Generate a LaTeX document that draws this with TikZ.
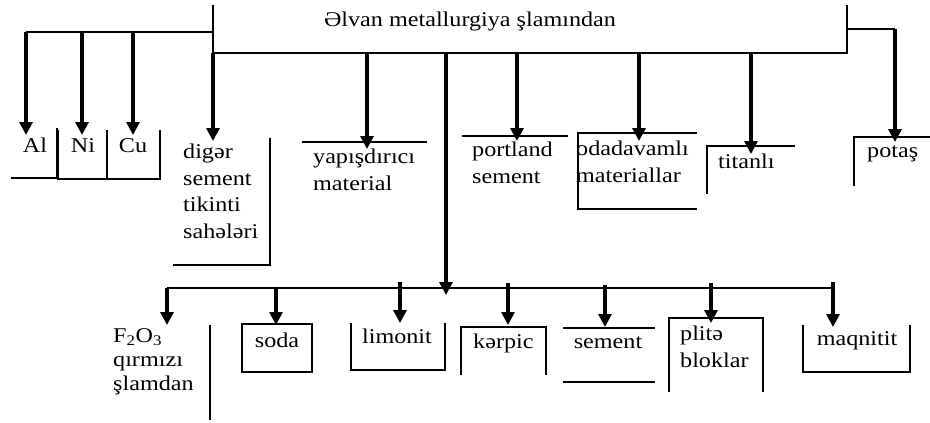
\documentclass[tikz,border=0pt]{standalone}
\usepackage{fontspec}
\setmainfont{Liberation Serif}[FakeStretch=1.15]
\usetikzlibrary{arrows.meta}

\tikzset{
  thinline/.style={line width=1.4pt},
  flow/.style={line width=3.2pt, -{Triangle[length=13pt,width=13pt]}},
  lbl/.style={inner sep=0pt, font=\fontsize{21}{26.5}\selectfont, align=left},
}

\begin{document}
\begin{tikzpicture}[x=1pt, y=-1pt]
        \useasboundingbox (0,0) rectangle (930,423);

        % Title
        \node[lbl, anchor=base] (title) at (470,27) {Əlvan metallurgiya şlamından};

        % Branch points on the upper buses
        \coordinate (top) at (213,5);
        \coordinate (leftbus) at (213,32);
        \coordinate (bus) at (213,53);
        \coordinate (busR) at (847,53);
        \coordinate (potTop) at (847,5);
        \coordinate (potBus) at (847,29);
        \coordinate (potTurn) at (895,29);
        \coordinate (alBus) at (26,32);
        \coordinate (niBus) at (82,32);
        \coordinate (cuBus) at (133,32);
        \coordinate (yapBus) at (367,53);
        \coordinate (midBus) at (446,53);
        \coordinate (porBus) at (517,53);
        \coordinate (odaBus) at (639,53);
        \coordinate (titBus) at (751,53);

        % Arrow ends on the upper row
        \coordinate (alIn) at (26,135);
        \coordinate (niIn) at (82,135);
        \coordinate (cuIn) at (133,135);
        \coordinate (digIn) at (213,141);
        \coordinate (yapIn) at (367,149);
        \coordinate (midIn) at (446,295);
        \coordinate (porIn) at (517,141);
        \coordinate (odaIn) at (639,141);
        \coordinate (titIn) at (751,154);
        \coordinate (potIn) at (895,142);

        % Upper bus lines
        \draw[thinline] (top) -- (bus) -- (busR) -- (potTop);
        \draw[thinline] (leftbus) -- (alBus);
        \draw[thinline] (potBus) -- (potTurn);

        % Upper arrows
        \draw[flow, line width=3.6pt] (alBus) -- (alIn);
        \draw[flow] (niBus) -- (niIn);
        \draw[flow] (cuBus) -- (cuIn);
        \draw[flow] (bus) -- (digIn);
        \draw[flow] (yapBus) -- (yapIn);
        \draw[flow] (midBus) -- (midIn);
        \draw[flow] (porBus) -- (porIn);
        \draw[flow] (odaBus) -- (odaIn);
        \draw[flow] (titBus) -- (titIn);
        \draw[flow, line width=4.5pt] (potTurn) -- (potIn);

        % Upper labels (base = last line)
        \node[lbl, anchor=base] (al) at (35,152) {Al};
        \node[lbl, anchor=base] (ni) at (83,152) {Ni};
        \node[lbl, anchor=base] (cu) at (133,152) {Cu};
        \node[lbl, anchor=base west] (diger) at (183,238) {digər\\sement\\tikinti\\sahələri};
        \node[lbl, anchor=base west] (yap) at (313,190) {yapışdırıcı\\material};
        \node[lbl, anchor=base west] (portland) at (472,183) {portland\\sement};
        \node[lbl, anchor=base west] (oda) at (576,182) {odadavamlı\\materiallar};
        \node[lbl, anchor=base west] (titan) at (718,168) {titanlı};
        \node[lbl, anchor=base west] (potas) at (867,157) {potaş};

        % Upper box edges
        \draw[thinline] (11,178) -- (57,178) -- (57,128);
        \draw[thinline] (58,130) -- (58,179) -- (160,179) -- (160,130);
        \draw[thinline] (107,130) -- (107,179);
        \draw[thinline] (270,138) -- (270,265) -- (173,265);
        \draw[thinline] (302,142) -- (427,142);
        \draw[thinline] (462,136) -- (568,136);
        \draw[thinline] (697,133) -- (578,133) -- (578,209) -- (697,209);
        \draw[thinline] (795,146) -- (707,146) -- (707,194);
        \draw[thinline] (930,137) -- (854,137) -- (854,186);

        % Lower bus and its arrows
        \coordinate (lowL) at (167,288);
        \coordinate (lowR) at (833,288);
        \draw[thinline] (lowL) -- (lowR);
        \foreach \name/\x/\ys/\ye in {fe/167/288/325, soda/276/288/325, limo/400/282/323,
                                      kerp/508/283/325, sem/605/285/327, plit/711/283/323,
                                      maq/833/282/327} {
            \coordinate (\name Bus) at (\x,\ys);
            \coordinate (\name In) at (\x,\ye);
            \draw[flow] (\name Bus) -- (\name In);
        }

        % Lower labels
        \node[lbl, anchor=base west, font=\fontsize{21}{24}\selectfont] (fe) at (113,390) {F\textsubscript{2}O\textsubscript{3}\\qırmızı\\şlamdan};
        \node[lbl, anchor=base] (soda) at (277,347) {soda};
        \node[lbl, anchor=base] (limonit) at (397,343) {limonit};
        \node[lbl, anchor=base west] (kerpic) at (473,348) {kərpic};
        \node[lbl, anchor=base] (sement) at (608,348) {sement};
        \node[lbl, anchor=base west] (plite) at (680,367) {plitə\\bloklar};
        \node[lbl, anchor=base] (maqnitit) at (857,345) {maqnitit};

        % Lower box edges
        \draw[thinline] (210,325) -- (210,420);
        \draw[thinline] (242,324) rectangle (312,372);
        \draw[thinline] (351,323) -- (351,370) -- (445,370) -- (445,323);
        \draw[thinline] (461,375) -- (461,327) -- (546,327) -- (546,375);
        \draw[thinline] (563,328) -- (655,328);
        \draw[thinline] (563,382) -- (655,382);
        \draw[thinline] (669,392) -- (669,318) -- (763,318) -- (763,392);
        \draw[thinline] (803,325) -- (803,372) -- (910,372) -- (910,325);
    \end{tikzpicture}
\end{document}
